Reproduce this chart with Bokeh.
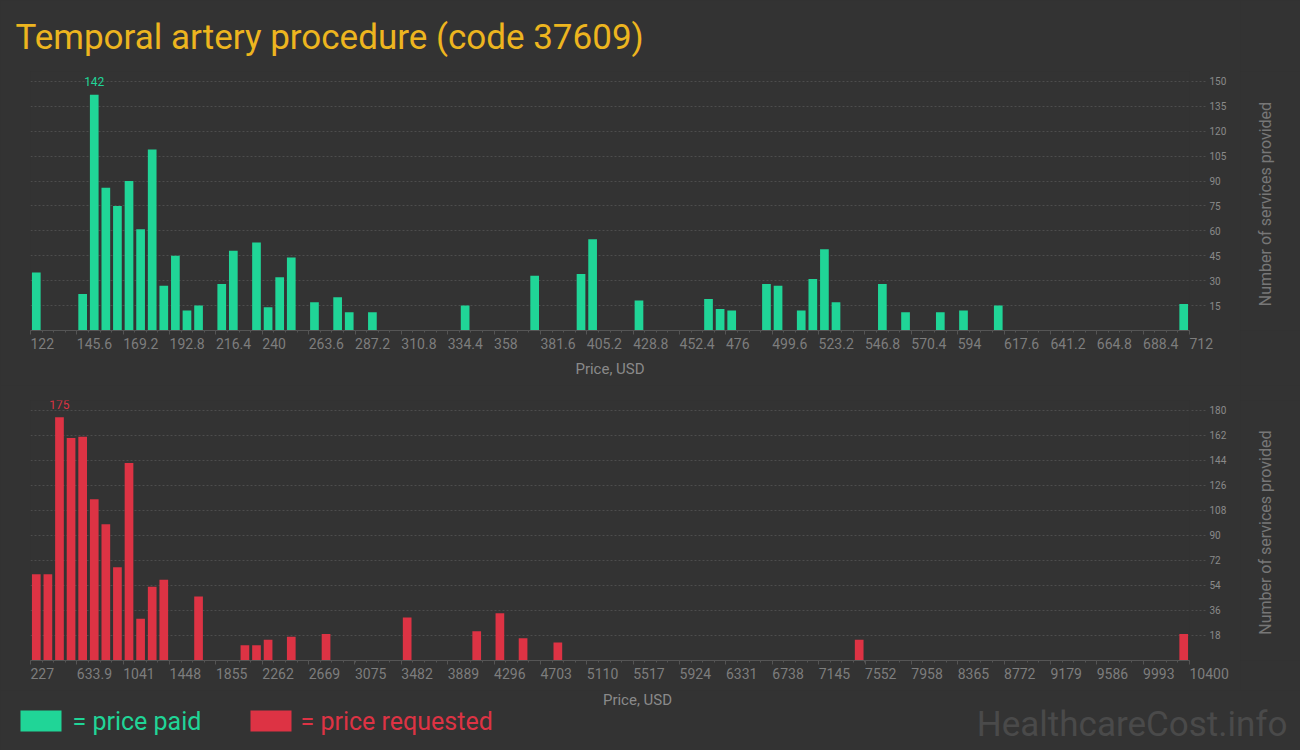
import math
import numpy as np
from bokeh.plotting import figure
from bokeh.models import FixedTicker, Range1d
from bokeh.layouts import column, row
from bokeh.embed import file_html
from bokeh.resources import INLINE
from bokeh.core.properties import value

# ---------------- data ----------------
title_text = "Temporal artery procedure (code 37609)"

# price paid: lower edge of each price bin (USD) and number of services
paid_bin_width = 5.9
paid_price = [122.0, 145.6, 151.5, 157.4, 163.3, 169.2, 175.1, 181.0, 186.9, 192.8,
              198.7, 204.6, 216.4, 222.3, 234.1, 240.0, 245.9, 251.8, 263.6, 275.4,
              281.3, 293.1, 340.3, 375.7, 399.3, 405.2, 428.8, 464.2, 470.1, 476.0,
              493.7, 499.6, 511.4, 517.3, 523.2, 529.1, 552.7, 564.5, 582.2, 594.0,
              611.7, 706.1]
paid_count = [35, 22, 142, 86, 75, 90, 61, 109, 27, 45,
              12, 15, 28, 48, 53, 14, 32, 44, 17, 20,
              11, 11, 15, 33, 34, 55, 18, 19, 13, 12,
              28, 27, 12, 31, 49, 17, 28, 11, 11, 12,
              15, 16]
paid_tick_labels = ["122", "145.6", "169.2", "192.8", "216.4", "240", "263.6", "287.2",
                    "310.8", "334.4", "358", "381.6", "405.2", "428.8", "452.4", "476",
                    "499.6", "523.2", "546.8", "570.4", "594", "617.6", "641.2", "664.8",
                    "688.4", "712"]
paid_y_ticks = [15, 30, 45, 60, 75, 90, 105, 120, 135, 150]

# price requested
req_bin_width = 101.73
req_price = [227.0, 328.73, 430.46, 532.19, 633.92, 735.65, 837.38, 939.11, 1040.84,
             1142.57, 1244.3, 1346.03, 1651.22, 2058.14, 2159.87, 2261.6, 2465.06,
             2770.25, 3482.36, 4092.74, 4296.2, 4499.66, 4804.85, 7449.83, 10298.27]
req_count = [62, 62, 175, 160, 161, 116, 98, 67, 142,
             30, 53, 58, 46, 11, 11, 15, 17,
             19, 31, 21, 34, 16, 13, 15, 19]
req_tick_labels = ["227", "633.9", "1041", "1448", "1855", "2262", "2669", "3075", "3482",
                   "3889", "4296", "4703", "5110", "5517", "5924", "6331", "6738", "7145",
                   "7552", "7958", "8365", "8772", "9179", "9586", "9993", "10400"]
req_y_ticks = [18, 36, 54, 72, 90, 108, 126, 144, 162, 180]

y_title = "Number of services provided"
x_title = "Price, USD"
legend_labels = ["= price paid", "= price requested"]
watermark = "HealthcareCost.info"

# ---------------- style ----------------
BG = "#333333"
GREEN = "#20d597"
RED = "#dd3344"
TITLE_C = "#edb51f"
GRID_C = "#4d4d4d"
AXIS_C = "#555555"
LABEL_C = "#7d7d7d"
FONT = "Roboto"
W = 1300
SIDE = 60
CW = W - SIDE


def blank(width, height, yr):
    s = figure(width=width, height=height, x_range=Range1d(0, width), y_range=Range1d(0, yr),
               output_backend="svg", toolbar_location=None,
               background_fill_color=BG, border_fill_color=BG, outline_line_color=None,
               min_border=0)
    s.axis.visible = False
    s.grid.visible = False
    return s


def make_chart(height, x0, x1, ymax, prices, counts, binw, tick_labels, yticks, color,
               border_top, border_bottom, with_xlabel):
    p = figure(width=CW, height=height, x_range=Range1d(x0, x1), y_range=Range1d(0, ymax),
               y_axis_location="right", output_backend="svg", toolbar_location=None,
               background_fill_color=BG, border_fill_color=BG, outline_line_color=None,
               min_border_left=30, min_border_right=CW - 1189,
               min_border_top=border_top, min_border_bottom=border_bottom)
    centers = np.array(prices) + binw / 2.0
    p.vbar(x=centers, top=counts, bottom=0, width=binw * 0.75, color=color, line_color=None)

    i = int(np.argmax(counts))
    p.text(x=[centers[i]], y=[counts[i]], text=[str(counts[i])], text_align="center",
           text_baseline="alphabetic", y_offset=-13, text_font=value(FONT),
           text_font_size="12px", text_color=color)

    ticks = [float(s) for s in tick_labels]
    minor = [x0 + binw * k for k in range(101)]
    xa = p.xaxis[0]
    xa.ticker = FixedTicker(ticks=ticks, minor_ticks=minor)
    xa.major_label_overrides = {float(s): s for s in tick_labels}
    xa.axis_line_color = AXIS_C
    xa.major_tick_line_color = AXIS_C
    xa.minor_tick_line_color = AXIS_C
    xa.major_tick_out = 4
    xa.major_tick_in = 0
    xa.minor_tick_out = 2
    xa.minor_tick_in = 0
    xa.major_label_text_font = FONT
    xa.major_label_text_font_size = "14px"
    xa.major_label_text_color = LABEL_C
    xa.major_label_standoff = 9
    xa.major_label_orientation = -1e-4
    if with_xlabel:
        xa.axis_label = x_title
        xa.axis_label_text_font = FONT
        xa.axis_label_text_font_size = "15px"
        xa.axis_label_text_font_style = "normal"
        xa.axis_label_text_color = "#8a8a8a"
        xa.axis_label_standoff = 2

    ya = p.yaxis[0]
    ya.ticker = FixedTicker(ticks=yticks)
    ya.axis_line_color = None
    ya.major_tick_out = 16
    ya.major_tick_in = 0
    ya.major_tick_line_color = GRID_C
    ya.major_tick_line_dash = "2 2"
    ya.minor_tick_line_color = None
    ya.major_label_text_font = FONT
    ya.major_label_text_font_size = "10px"
    ya.major_label_text_color = "#8a8a8a"
    ya.major_label_standoff = 4

    p.xgrid.visible = False
    p.ygrid.ticker = FixedTicker(ticks=yticks)
    p.ygrid.grid_line_color = GRID_C
    p.ygrid.grid_line_dash = "2 2"
    return p


H1, H2 = 385, 305
H3 = 750 - H1 - H2

p1 = make_chart(H1, 122.0, 712.0, 156, paid_price, paid_count, paid_bin_width,
                paid_tick_labels, paid_y_ticks, GREEN, 70, 55, True)
p1.title.text = title_text
p1.title.text_font = FONT
p1.title.text_font_size = "35px"
p1.title.text_font_style = "normal"
p1.title.text_color = TITLE_C
p1.title.align = "left"
p1.title.offset = -15
p1.title.standoff = 28

p2 = make_chart(H2, 227.0, 10400.0, 187, req_price, req_count, req_bin_width,
                req_tick_labels, req_y_ticks, RED, 15, 30, False)

# vertical axis titles (reading bottom to top) in side strips
s1 = blank(SIDE, H1, H1)
s1.text(x=[25], y=[188], text=[y_title], angle=math.pi / 2, text_align="center",
        text_baseline="middle", text_font=value(FONT), text_font_size="16px",
        text_color="#777777")
s2 = blank(SIDE, H2, H2)
s2.text(x=[25], y=[150], text=[y_title], angle=math.pi / 2, text_align="center",
        text_baseline="middle", text_font=value(FONT), text_font_size="16px",
        text_color="#777777")

# bottom strip: x title of the lower chart, legend and watermark
p3 = blank(W, H3, H3)
p3.text(x=[637], y=[50.5], text=[x_title], text_align="center", text_baseline="alphabetic",
        text_font=value(FONT), text_font_size="15px", text_color="#8a8a8a")
p3.rect(x=[40.5, 270.5], y=[29.5, 29.5], width=41, height=21, color=[GREEN, RED],
        line_color=None)
p3.text(x=[72, 300], y=[29, 29], text=legend_labels, text_baseline="alphabetic",
        text_font=value(FONT), text_font_size="25px", text_color=[GREEN, RED])
p3.text(x=[1287], y=[26.5], text=[watermark], text_align="right", text_baseline="alphabetic",
        text_font=value(FONT), text_font_size="35px", text_color="#4a4a4a")

layout = column(row(p1, s1, spacing=0), row(p2, s2, spacing=0), p3, spacing=0)
layout.styles = {"background-color": BG}
open("out.html", "w").write(file_html(layout, INLINE))
